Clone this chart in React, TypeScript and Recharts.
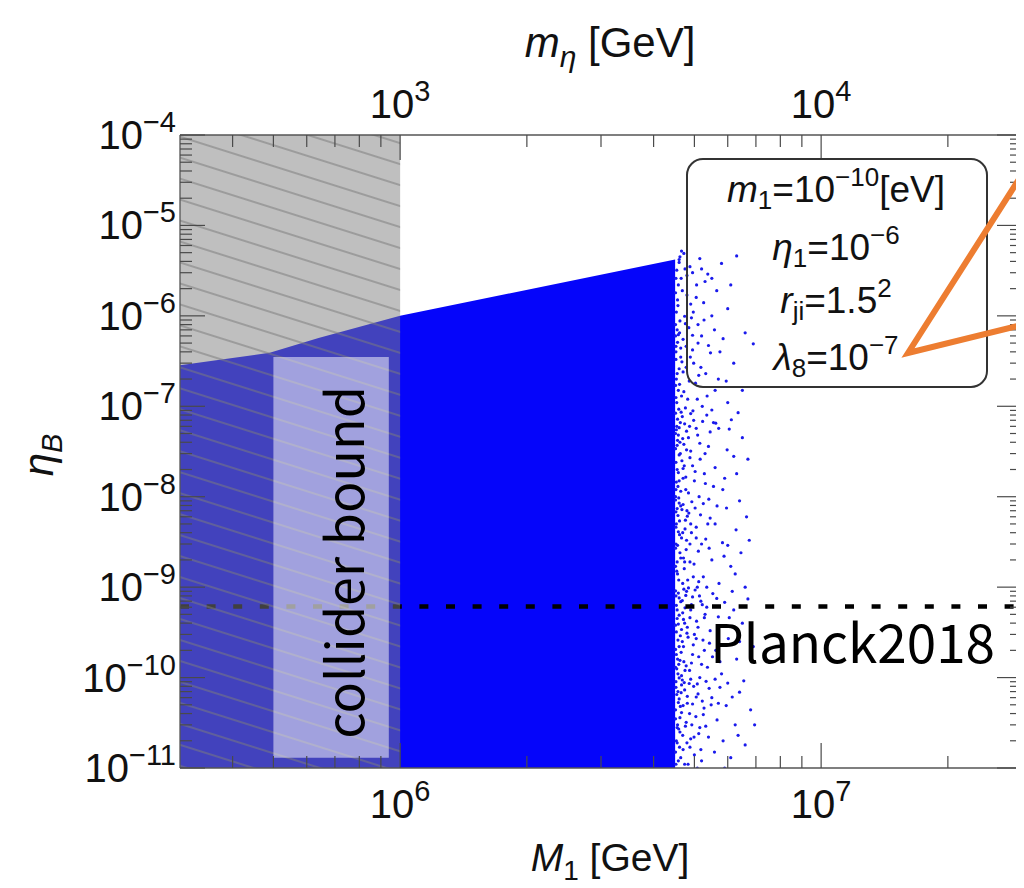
import React from 'react';
import {
  ComposedChart,
  Area,
  Scatter,
  XAxis,
  YAxis,
  ReferenceArea,
  ReferenceLine,
} from 'recharts';

// ---------------- data ----------------
const M1_DOMAIN: [number, number] = [3e5, 3e7];
const ETA_DOMAIN: [number, number] = [1e-11, 1e-4];

// upper edge of the densely filled scan region (M1 [GeV], eta_B)
const denseM1 = [3e5, 4.9e5, 6.4e5, 1.0e6, 4.5e6];
const denseEtaTop = [2.85e-7, 3.9e-7, 5.7e-7, 1.0e-6, 4.2e-6];

// sparse scan points beyond the dense edge: [M1 / 1e6 GeV, eta_B]
const sparsePoints: [number, number][] = [
  // 1e-11 .. 1e-10
  [4.58, 1.2e-11], [4.62, 2.5e-11], [4.66, 4.1e-11], [4.7, 1.6e-11], [4.74, 7.3e-11], [4.6, 5.8e-11],
  [4.78, 3.2e-11], [4.83, 1.1e-11], [4.86, 8.6e-11], [4.9, 2.1e-11], [4.95, 5.1e-11], [5.0, 1.4e-11],
  [5.04, 3.7e-11], [5.1, 6.6e-11], [5.15, 2.8e-11], [5.2, 1.2e-11], [5.27, 4.6e-11], [5.33, 9.1e-11],
  [5.4, 2.2e-11], [5.5, 6.0e-11], [5.58, 1.5e-11], [5.66, 3.4e-11], [5.75, 7.8e-11], [5.85, 2.0e-11],
  [5.95, 4.9e-11], [6.1, 1.3e-11], [6.25, 3.0e-11], [6.4, 6.9e-11], [6.6, 1.8e-11], [6.8, 4.4e-11],
  [4.68, 9.4e-11], [4.98, 8.0e-11], [5.22, 5.5e-11], [4.8, 1.9e-11], [5.6, 9.6e-11], [4.56, 3.0e-11],
  [5.08, 1.0e-11], [6.0, 8.7e-11], [4.53, 2.0e-11], [4.54, 6.5e-11], [4.52, 9.0e-11], [4.64, 1.3e-11],
  // 1e-10 .. 1e-9
  [4.57, 1.1e-10], [4.63, 2.9e-10], [4.69, 5.2e-10], [4.72, 1.5e-10], [4.77, 8.1e-10], [4.81, 3.6e-10],
  [4.87, 1.2e-10], [4.92, 6.4e-10], [4.97, 2.3e-10], [5.02, 9.3e-10], [5.06, 4.2e-10], [5.12, 1.7e-10],
  [5.18, 7.0e-10], [5.24, 2.6e-10], [5.3, 5.0e-10], [5.37, 1.3e-10], [5.45, 3.3e-10], [5.53, 8.5e-10],
  [5.62, 2.0e-10], [5.7, 4.7e-10], [5.8, 1.1e-10], [5.9, 6.8e-10], [6.02, 2.7e-10], [6.15, 9.0e-10],
  [6.3, 1.6e-10], [6.5, 4.0e-10], [6.7, 7.4e-10], [6.9, 2.2e-10], [4.6, 7.6e-10], [4.84, 9.8e-10],
  [5.0, 3.0e-10], [4.65, 1.9e-10], [5.35, 6.0e-10], [5.15, 1.0e-10], [6.2, 5.6e-10], [4.53, 1.8e-10],
  [4.55, 4.5e-10], [4.52, 8.0e-10], [4.56, 1.6e-10], [4.59, 1.4e-10],
  // 1e-9 .. 1e-8
  [4.56, 1.4e-9], [4.61, 3.8e-9], [4.67, 7.2e-9], [4.71, 2.1e-9], [4.76, 5.5e-9], [4.82, 1.2e-9],
  [4.88, 3.0e-9], [4.93, 8.8e-9], [4.99, 1.8e-9], [5.05, 4.6e-9], [5.11, 2.5e-9], [5.17, 6.3e-9],
  [5.25, 1.3e-9], [5.32, 3.4e-9], [5.41, 9.4e-9], [5.5, 2.0e-9], [5.6, 5.0e-9], [5.72, 1.1e-9],
  [5.83, 3.1e-9], [5.96, 7.5e-9], [6.1, 1.7e-9], [6.28, 4.3e-9], [6.45, 2.4e-9], [6.65, 6.0e-9],
  [4.59, 9.7e-9], [4.85, 6.6e-9], [5.08, 1.0e-9], [4.73, 1.6e-9], [5.45, 5.8e-9], [6.0, 2.9e-9],
  [4.54, 1.5e-9], [4.53, 5.0e-9], [4.52, 3.0e-9], [4.57, 6.2e-9], [4.6, 8.5e-9],
  // 1e-8 .. 1e-7
  [4.57, 1.3e-8], [4.62, 4.0e-8], [4.68, 7.7e-8], [4.73, 2.2e-8], [4.79, 5.3e-8], [4.84, 1.1e-8],
  [4.9, 3.2e-8], [4.96, 8.9e-8], [5.02, 1.9e-8], [5.09, 4.8e-8], [5.16, 2.6e-8], [5.23, 6.8e-8],
  [5.31, 1.4e-8], [5.4, 3.6e-8], [5.5, 9.1e-8], [5.6, 2.1e-8], [5.71, 5.7e-8], [5.84, 1.2e-8],
  [5.98, 3.3e-8], [6.12, 7.1e-8], [6.3, 1.8e-8], [6.5, 4.5e-8], [4.6, 2.9e-8], [4.87, 6.0e-8],
  [5.13, 1.0e-8], [4.7, 1.6e-8], [5.35, 8.0e-8], [6.2, 2.8e-8], [4.55, 2.0e-8], [4.54, 6.0e-8],
  [4.52, 1.2e-8], [4.58, 4.8e-8],
  // 1e-7 .. 1e-6
  [4.58, 1.5e-7], [4.64, 4.4e-7], [4.7, 2.4e-7], [4.76, 8.2e-7], [4.82, 1.2e-7], [4.89, 3.5e-7],
  [4.95, 6.1e-7], [5.03, 1.8e-7], [5.1, 5.0e-7], [5.18, 2.7e-7], [5.27, 9.0e-7], [5.36, 1.3e-7],
  [5.46, 3.9e-7], [5.58, 7.0e-7], [5.7, 2.0e-7], [5.85, 5.6e-7], [6.0, 1.1e-7], [6.2, 3.0e-7],
  [4.61, 6.5e-7], [4.92, 9.5e-7], [5.22, 1.0e-7], [5.6, 1.5e-7], [4.53, 2.0e-7], [4.55, 7.0e-7],
  [4.52, 4.0e-7],
  // 1e-6 .. 5e-6
  [4.57, 1.3e-6], [4.65, 2.6e-6], [4.72, 4.9e-6], [4.8, 1.7e-6], [4.88, 3.5e-6], [4.97, 1.1e-6],
  [5.06, 2.2e-6], [5.15, 4.3e-6], [5.26, 1.4e-6], [5.38, 2.9e-6], [5.5, 1.0e-6], [5.65, 1.9e-6],
  [5.8, 3.8e-6], [6.0, 1.2e-6], [6.3, 4.6e-6], [4.6, 3.9e-6],
  // crowded band just past the dense edge
  [4.51, 1.5e-11], [4.55, 1.9e-11], [4.59, 2.7e-11], [4.51, 3.5e-11], [4.63, 4.8e-11], [4.57, 7.0e-11],
  [4.66, 8.3e-11], [4.51, 1.3e-10], [4.6, 2.2e-10], [4.68, 2.5e-10], [4.53, 3.2e-10], [4.58, 3.9e-10],
  [4.71, 4.4e-10], [4.55, 5.6e-10], [4.64, 6.9e-10], [4.51, 9.1e-10], [4.69, 1.1e-9], [4.55, 1.9e-9],
  [4.62, 2.4e-9], [4.51, 2.7e-9], [4.66, 3.5e-9], [4.58, 4.1e-9], [4.75, 4.4e-9], [4.52, 6.8e-9],
  [4.64, 7.9e-9], [4.51, 1.0e-8], [4.6, 1.5e-8], [4.67, 2.5e-8], [4.51, 3.4e-8], [4.56, 4.2e-8],
  [4.72, 3.8e-8], [4.53, 5.5e-8], [4.63, 6.6e-8], [4.51, 8.4e-8], [4.59, 9.3e-8], [4.54, 1.1e-7],
  [4.66, 1.3e-7], [4.51, 1.7e-7], [4.6, 2.6e-7], [4.52, 3.3e-7], [4.67, 3.1e-7], [4.56, 5.1e-7],
  [4.51, 6.0e-7], [4.62, 8.8e-7], [4.53, 1.1e-6], [4.51, 1.8e-6], [4.58, 2.2e-6], [4.54, 3.2e-6],
  [4.62, 4.5e-6],
  [4.52, 1.1e-11], [4.61, 1.7e-11], [4.69, 2.3e-11], [4.55, 2.8e-11], [4.76, 2.9e-11], [4.62, 3.6e-11],
  [4.51, 4.4e-11], [4.7, 4.9e-11], [4.58, 5.3e-11], [4.81, 6.2e-11], [4.65, 6.8e-11], [4.52, 7.8e-11],
  [4.73, 8.8e-11], [4.6, 9.9e-11], [4.66, 1.05e-10], [4.54, 1.25e-10], [4.78, 1.35e-10], [4.62, 1.55e-10],
  [4.51, 2.05e-10], [4.71, 2.2e-10], [4.57, 2.6e-10], [4.8, 3.1e-10], [4.66, 3.4e-10], [4.51, 3.8e-10],
  [4.6, 4.9e-10], [4.75, 5.9e-10], [4.53, 6.3e-10], [4.68, 7.1e-10], [4.58, 8.6e-10], [4.72, 9.5e-10],
  [4.59, 1.2e-9], [4.51, 1.7e-9], [4.74, 1.9e-9], [4.64, 2.1e-9], [4.56, 2.9e-9], [4.79, 3.3e-9],
  [4.69, 4.0e-9], [4.52, 4.6e-9], [4.61, 5.4e-9], [4.81, 6.1e-9], [4.55, 7.4e-9], [4.7, 8.2e-9],
  [4.51, 9.2e-9], [4.64, 1.15e-8], [4.53, 1.45e-8], [4.77, 1.65e-8], [4.58, 1.85e-8], [4.7, 2.05e-8],
  [4.52, 2.4e-8], [4.63, 3.0e-8], [4.79, 3.3e-8], [4.55, 3.7e-8], [4.69, 4.4e-8], [4.51, 5.0e-8],
  [4.6, 5.8e-8], [4.74, 6.4e-8], [4.56, 7.2e-8], [4.65, 8.6e-8], [4.52, 1.25e-7], [4.72, 1.45e-7],
  [4.61, 1.75e-7], [4.55, 2.3e-7], [4.78, 2.7e-7], [4.64, 3.5e-7], [4.52, 4.6e-7], [4.7, 5.5e-7],
  [4.58, 6.2e-7], [4.51, 8.0e-7], [4.74, 9.9e-7], [4.56, 1.5e-6], [4.68, 1.9e-6], [4.52, 2.6e-6],
  [4.75, 3.3e-6], [4.6, 4.2e-6], [4.66, 5.2e-6],
  // medium spread
  [4.74, 1.1e-11], [4.88, 1.7e-11], [5.12, 2.4e-11], [4.93, 3.0e-11], [5.25, 3.9e-11], [4.81, 5.2e-11],
  [5.05, 6.1e-11], [5.42, 7.6e-11], [4.9, 9.6e-11], [4.75, 1.2e-10], [5.2, 1.4e-10], [4.95, 1.8e-10],
  [5.43, 2.4e-10], [4.83, 2.8e-10], [5.1, 3.6e-10], [4.74, 4.0e-10], [5.28, 4.6e-10], [4.9, 5.6e-10],
  [5.14, 8.0e-10], [4.79, 9.0e-10], [5.35, 1.0e-9], [4.97, 1.3e-9], [4.78, 2.6e-9], [5.2, 3.0e-9],
  [4.92, 4.0e-9], [5.38, 5.0e-9], [4.8, 7.0e-9], [5.02, 7.5e-9], [4.77, 1.2e-8], [5.28, 1.8e-8],
  [4.95, 2.2e-8], [5.15, 3.9e-8], [4.84, 4.5e-8], [5.45, 5.2e-8], [4.98, 7.0e-8], [4.76, 9.6e-8],
  [5.08, 1.2e-7], [4.86, 1.9e-7], [5.32, 2.3e-7], [4.98, 3.0e-7], [4.78, 4.6e-7], [5.2, 6.0e-7],
  [4.85, 7.4e-7], [5.05, 1.6e-6], [4.8, 2.8e-6], [5.3, 2.4e-6], [4.95, 3.0e-6],
  [5.18, 1.6e-11], [4.99, 2.2e-11], [5.32, 2.9e-11], [4.87, 4.0e-11], [5.48, 5.0e-11], [5.08, 8.5e-11],
  [4.92, 1.45e-10], [5.28, 2.0e-10], [5.05, 2.7e-10], [4.88, 4.6e-10], [5.22, 6.4e-10], [5.52, 1.7e-10],
  [4.95, 7.8e-10], [5.12, 1.15e-9], [4.88, 1.9e-9], [5.42, 2.7e-9], [5.05, 3.5e-9], [4.9, 5.0e-9],
  [5.25, 8.4e-9], [5.55, 1.3e-8], [5.0, 1.5e-8], [4.88, 2.7e-8], [5.3, 3.0e-8], [5.05, 5.7e-8],
  [5.55, 6.6e-8], [4.9, 8.3e-8], [5.12, 2.2e-7], [5.4, 4.7e-7], [4.95, 4.2e-7], [5.1, 8.0e-7],
  [4.9, 1.35e-6], [5.2, 3.3e-6],
  // far tail
  [5.9, 1.0e-11], [6.35, 2.3e-11], [6.95, 3.0e-11], [5.7, 5.2e-11], [6.15, 6.1e-11], [6.55, 9.2e-11],
  [5.75, 1.5e-10], [6.4, 2.5e-10], [6.8, 3.6e-10], [6.05, 4.6e-10], [5.65, 7.5e-10], [6.6, 1.0e-9],
  [6.25, 1.4e-9], [5.88, 2.2e-9], [6.75, 3.3e-9], [5.66, 7.9e-9], [6.4, 9.0e-9], [5.9, 1.6e-8],
  [6.7, 2.6e-8], [6.05, 5.6e-8], [5.62, 6.5e-8], [6.35, 8.5e-8], [5.95, 1.9e-7], [6.5, 1.5e-7],
  [5.75, 4.0e-7], [6.6, 6.5e-7], [5.5, 2.6e-6], [6.1, 2.2e-6], [6.9, 4.9e-7],
];

const PLANCK_ETA = 6.1e-10;
const EXCLUDED_M1: [number, number] = [3e5, 1e6];
const COLLIDER_M1: [number, number] = [5e5, 9.4e5];
const COLLIDER_ETA: [number, number] = [1.3e-11, 3.5e-7];

// bottom axis (M1 [GeV]) and the matching top axis (m_eta [GeV]) tick values
const bottomTicks = [4e5, 5e5, 6e5, 7e5, 8e5, 9e5, 1e6, 2e6, 3e6, 4e6, 5e6, 6e6, 7e6, 8e6, 9e6, 1e7, 2e7];
const topTicks = [400, 500, 600, 700, 800, 900, 1000, 2000, 3000, 4000, 5000, 6000, 7000, 8000, 9000, 10000, 20000];
const yDecades = [-11, -10, -9, -8, -7, -6, -5];
const minorMultipliers = [1, 2, 3, 4, 5, 6, 7, 8, 9];

const yTicks: number[] = [];
yDecades.forEach((d) => minorMultipliers.forEach((k) => yTicks.push(k * Math.pow(10, d))));
yTicks.push(1e-4);

const denseData = denseM1.map((m, i) => ({ m, eta: denseEtaTop[i] }));
const sparseData = sparsePoints.map(([m, eta]) => ({ m: m * 1e6, eta }));

// ---------------- styling helpers ----------------
const SANS = "'Liberation Sans', Arial, Helvetica, sans-serif";
const JP = "'Noto Sans CJK JP', 'Noto Sans', sans-serif";
const TICK_COLOR = '#4a4a4a';
const MAJOR_LEN = 25;
const MINOR_LEN = 12;
const W = 1016;
const H = 880;
const TOP_H = 127;
const BOTTOM_H = 120;
const PLOT_H = H - TOP_H - BOTTOM_H;

const isMajor = (v: number) => Math.abs(Math.log10(v) - Math.round(Math.log10(v))) < 1e-6;
const expOf = (v: number) => Math.round(Math.log10(v));
const expText = (e: number) => (e < 0 ? '\u2212' + -e : String(e));

const PowerLabel = ({ x, y, exp, anchor }: { x: number; y: number; exp: number; anchor: string }) => (
  <text x={x} y={y} textAnchor={anchor} fontFamily={SANS} fontSize={40} fill="#111">
    10
    <tspan dy={-17} fontSize={29}>
      {expText(exp)}
    </tspan>
  </text>
);

// bottom axis tick; also draws the mirrored tick + m_eta label on the top frame
const BottomTick = (props: any) => {
  const { x, y, payload, index } = props;
  const v = payload.value;
  const major = isMajor(v);
  const len = major ? MAJOR_LEN : MINOR_LEN;
  const topY = y - PLOT_H;
  const topVal = topTicks[index];
  return (
    <g>
      <line x1={x} x2={x} y1={y} y2={y - len} stroke={TICK_COLOR} strokeWidth={1.2} />
      <line x1={x} x2={x} y1={topY} y2={topY + len} stroke={TICK_COLOR} strokeWidth={1.2} />
      {major && <PowerLabel x={x} y={y + 50} exp={expOf(v)} anchor="middle" />}
      {major && topVal !== undefined && <PowerLabel x={x} y={topY - 17} exp={expOf(topVal)} anchor="middle" />}
    </g>
  );
};

const LeftTick = (props: any) => {
  const { x, y, payload } = props;
  const v = payload.value;
  const major = isMajor(v);
  return (
    <g>
      <line x1={x} x2={x + (major ? MAJOR_LEN : MINOR_LEN)} y1={y} y2={y} stroke={TICK_COLOR} strokeWidth={1.2} />
      {major && <PowerLabel x={x - 4} y={y + 14} exp={expOf(v)} anchor="end" />}
    </g>
  );
};

const RightTick = (props: any) => {
  const { x, y, payload } = props;
  const major = isMajor(payload.value);
  return (
    <g>
      <line x1={x} x2={x - (major ? MAJOR_LEN : MINOR_LEN)} y1={y} y2={y} stroke={TICK_COLOR} strokeWidth={1.2} />
    </g>
  );
};

const ColliderLabel = (props: any) => {
  const vb = props.viewBox || {};
  const cx = vb.x + 91;
  const cy = vb.y + vb.height / 2 + 5;
  return (
    <text
      x={cx}
      y={cy}
      transform={`rotate(-90 ${cx} ${cy})`}
      textAnchor="middle"
      fontFamily={JP}
      fontSize={52}
      fill="#000"
    >
      collider bound
    </text>
  );
};

const PlanckLabel = (props: any) => {
  const vb = props.viewBox || {};
  return (
    <text x={vb.x + vb.width - 27} y={vb.y + 56} textAnchor="end" fontFamily={JP} fontSize={53} fill="#000">
      Planck2018
    </text>
  );
};

const Dot = (props: any) => <circle cx={props.cx} cy={props.cy} r={1.6} fill="#1a1aec" />;

const AXIS_LINE = { stroke: '#555', strokeWidth: 1.3 };

export default function App() {
  return (
    <div style={{ position: 'relative', width: W, height: H }}>
      <ComposedChart width={W} height={H} data={denseData} margin={{ top: 0, right: 0, bottom: 0, left: 0 }}>
        <XAxis
          dataKey="m"
          type="number"
          scale="log"
          domain={M1_DOMAIN}
          allowDataOverflow
          ticks={bottomTicks}
          interval={0}
          tick={(p: any) => <BottomTick {...p} />}
          tickLine={false}
          tickSize={0}
          tickMargin={0}
          height={BOTTOM_H}
          axisLine={AXIS_LINE}
        />
        <XAxis
          xAxisId="top"
          orientation="top"
          type="number"
          scale="log"
          domain={M1_DOMAIN}
          allowDataOverflow
          tick={false}
          tickLine={false}
          height={TOP_H}
          axisLine={AXIS_LINE}
        />
        <YAxis
          dataKey="eta"
          type="number"
          scale="log"
          domain={ETA_DOMAIN}
          allowDataOverflow
          ticks={yTicks}
          interval={0}
          tick={(p: any) => <LeftTick {...p} />}
          tickLine={false}
          tickSize={0}
          tickMargin={0}
          width={172}
          axisLine={AXIS_LINE}
        />
        <YAxis
          yAxisId="right"
          orientation="right"
          type="number"
          scale="log"
          domain={ETA_DOMAIN}
          allowDataOverflow
          ticks={yTicks}
          interval={0}
          tick={(p: any) => <RightTick {...p} />}
          tickLine={false}
          tickSize={0}
          tickMargin={0}
          width={2}
          axisLine={AXIS_LINE}
        />
        <Area
          dataKey="eta"
          type="linear"
          baseValue={ETA_DOMAIN[0]}
          fill="#0505fa"
          fillOpacity={1}
          stroke="none"
          isAnimationActive={false}
          zIndex={100}
        />
        <Scatter data={sparseData} dataKey="eta" shape={Dot} isAnimationActive={false} zIndex={110} />
        <ReferenceLine
          y={PLANCK_ETA}
          stroke="#000"
          strokeWidth={4.5}
          strokeDasharray="9 17.6"
          label={(p: any) => <PlanckLabel {...p} />}
          zIndex={120}
        />
        <ReferenceArea
          x1={EXCLUDED_M1[0]}
          x2={EXCLUDED_M1[1]}
          y1={ETA_DOMAIN[0]}
          y2={ETA_DOMAIN[1]}
          fill="#808080"
          fillOpacity={0.5}
          stroke="none"
          zIndex={130}
        />
        <ReferenceArea
          x1={EXCLUDED_M1[0]}
          x2={EXCLUDED_M1[1]}
          y1={ETA_DOMAIN[0]}
          y2={ETA_DOMAIN[1]}
          fill="url(#hatchPattern)"
          fillOpacity={1}
          stroke="none"
          zIndex={140}
        />
        <ReferenceArea
          x1={COLLIDER_M1[0]}
          x2={COLLIDER_M1[1]}
          y1={COLLIDER_ETA[0]}
          y2={COLLIDER_ETA[1]}
          fill="#ffffff"
          fillOpacity={0.5}
          stroke="none"
          label={(p: any) => <ColliderLabel {...p} />}
          zIndex={150}
        />
      </ComposedChart>
      <svg
        width={W}
        height={H}
        style={{ position: 'absolute', left: 0, top: 0, pointerEvents: 'none', overflow: 'visible' }}
      >
        <defs>
          <pattern
            id="hatchPattern"
            patternUnits="userSpaceOnUse"
            width={20}
            height={20}
            patternTransform="rotate(17.5)"
          >
            <line x1={-2} y1={11} x2={22} y2={11} stroke="#7c7c7c" strokeOpacity={0.7} strokeWidth={1.5} />
          </pattern>
        </defs>
        {/* axis titles */}
        <text x={602} y={49} textAnchor="middle" fontFamily={SANS} fontSize={42} fill="#111">
          <tspan fontStyle="italic">m</tspan>
          <tspan fontStyle="italic" fontSize={30} dy={10}>η</tspan>
          <tspan dy={-10}>{' [GeV]'}</tspan>
        </text>
        <text x={602} y={863} textAnchor="middle" fontFamily={SANS} fontSize={39} fill="#111">
          <tspan fontStyle="italic">M</tspan>
          <tspan fontSize={28} dy={9}>1</tspan>
          <tspan dy={-9}>{' [GeV]'}</tspan>
        </text>
        <text x={45} y={447} transform="rotate(-90 45 447)" textAnchor="middle" fontFamily={SANS} fontSize={42} fill="#111">
          <tspan fontStyle="italic">η</tspan>
          <tspan fontStyle="italic" fontSize={29} dy={9}>B</tspan>
        </text>
        {/* parameter box */}
        <rect x={679} y={151} width={300} height={228} rx={16} ry={16} fill="none" stroke="#333" strokeWidth={2} />
        <g fontFamily={SANS} fontSize={37} fill="#111" textAnchor="middle">
          <text x={828} y={194}>
            <tspan fontStyle="italic">m</tspan>
            <tspan fontSize={26} dy={7}>1</tspan>
            <tspan dy={-7}>=10</tspan>
            <tspan fontSize={26} dy={-16}>{'\u221210'}</tspan>
            <tspan dy={16}>[eV]</tspan>
          </text>
          <text x={828} y={252}>
            <tspan fontStyle="italic">η</tspan>
            <tspan fontSize={26} dy={7}>1</tspan>
            <tspan dy={-7}>=10</tspan>
            <tspan fontSize={26} dy={-16}>{'\u22126'}</tspan>
          </text>
          <text x={828} y={305}>
            <tspan fontStyle="italic">r</tspan>
            <tspan fontSize={26} dy={7}>ji</tspan>
            <tspan dy={-7}>=1.5</tspan>
            <tspan fontSize={26} dy={-16}>2</tspan>
          </text>
          <text x={828} y={362}>
            <tspan fontStyle="italic">λ</tspan>
            <tspan fontSize={26} dy={7}>8</tspan>
            <tspan dy={-7}>=10</tspan>
            <tspan fontSize={26} dy={-16}>{'\u22127'}</tspan>
          </text>
        </g>
        {/* callout pointer */}
        <polyline
          points="1022,154 900,345 1022,315"
          fill="none"
          stroke="#ED7D31"
          strokeWidth={6}
          strokeLinejoin="miter"
          strokeMiterlimit={10}
        />
      </svg>
    </div>
  );
}
